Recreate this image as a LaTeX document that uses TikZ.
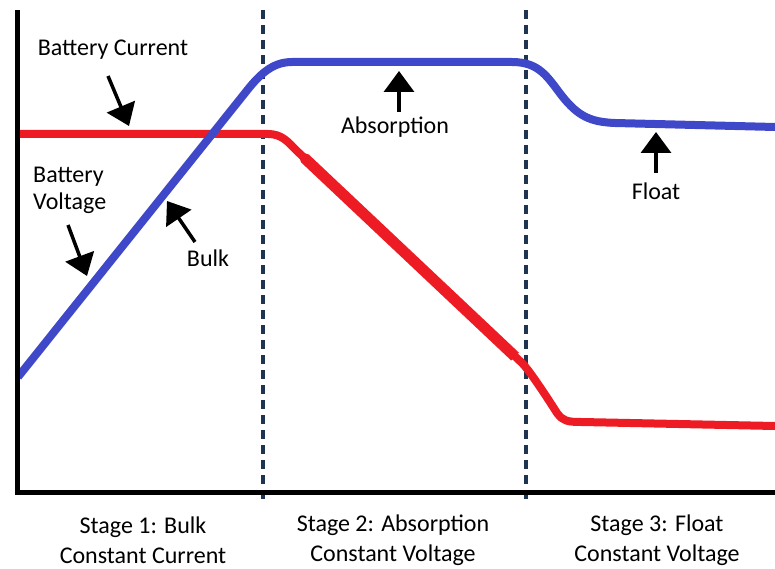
\documentclass[tikz,border=0pt]{standalone}
\usepackage{fontspec}
\setmainfont{Carlito}
\usetikzlibrary{arrows.meta}
\definecolor{voltblue}{HTML}{3F48C8}
\definecolor{currred}{HTML}{ED1C24}
\definecolor{stageline}{HTML}{1E3450}
\begin{document}
\begin{tikzpicture}[x=1pt,y=-1pt,
  lbl/.style={font=\fontsize{24}{27}\selectfont, text=black, inner sep=0pt},
  stagelbl/.style={font=\fontsize{24}{30}\selectfont, text=black, inner sep=0pt, align=center},
  axisline/.style={line width=5pt, black},
  stagesep/.style={line width=3.5pt, stageline, dash pattern=on 9pt off 6pt},
  voltcurve/.style={line width=8pt, voltblue, line join=round},
  currcurve/.style={line width=8pt, currred, line join=round},
  pointer/.style={line width=3.5pt, black, -{Triangle[width=30pt,length=21pt]}}]
\useasboundingbox (0,0) rectangle (775,569);

% stage separators
\coordinate (s1top) at (263,10);
\coordinate (s1bot) at (263,502);
\coordinate (s2top) at (526,10);
\coordinate (s2bot) at (526,502);
\draw[stagesep] (s1top) -- (s1bot);
\draw[stagesep] (s2top) -- (s2bot);

% charge current
\draw[currcurve] (18,134) -- (268,134) .. controls (282,134) and (288,142) .. (297,151)
  -- (522,363) .. controls (530,371) and (550,402) .. (557,413)
  .. controls (563,421) and (567,422) .. (582,422) -- (775,426);
% heavier stroke along the falling stretch
\draw[line width=11pt, currred, line cap=butt] (305,158.5) -- (515,356.5);
\fill[currred] (297,151) -- (305,158.5) -- (308.8,154.5) -- cycle;
\fill[currred] (297,151) -- (305,158.5) -- (301.2,162.5) -- cycle;

% battery voltage
\draw[voltcurve] (18,377) -- (245,93) .. controls (259,75) and (272,62) .. (292,62)
  -- (512,62) .. controls (540,62) and (548,78) .. (562,96)
  .. controls (578,116) and (590,122) .. (615,123) -- (775,127);

% axes
\coordinate (origin) at (17,492);
\coordinate (ytop) at (17,10);
\coordinate (xend) at (775,492);
\draw[axisline] (ytop) -- (origin) -- (xend);

% curve labels with pointers
\node[lbl] (curlbl) at (113,50) {Battery Current};
\coordinate (curtail) at (108,76);
\coordinate (curtip) at (129,126);
\draw[pointer] (curtail) -- (curtip);

\node[lbl, anchor=west, align=left] (voltlbl) at (33,190) {Battery\\Voltage};
\coordinate (volttail) at (68,225);
\coordinate (volttip) at (87,276);
\draw[pointer] (volttail) -- (volttip);

\node[lbl] (bulklbl) at (208,258) {Bulk};
\coordinate (bulktail) at (195,242);
\coordinate (bulktip) at (167,201);
\draw[pointer] (bulktail) -- (bulktip);

\node[lbl] (abslbl) at (395,127) {Absorption};
\coordinate (abstail) at (399,112);
\coordinate (abstip) at (399,71);
\draw[pointer] (abstail) -- (abstip);

\node[lbl] (floatlbl) at (656,191) {Float};
\coordinate (floattail) at (656,173);
\coordinate (floattip) at (656,132);
\draw[pointer] (floattail) -- (floattip);

% stage captions
\node[stagelbl] (stage1) at (143,540) {Stage 1: Bulk\\Constant Current};
\node[stagelbl] (stage2) at (393,540) {Stage 2: Absorption\\Constant Voltage};
\node[stagelbl] (stage3) at (657,540) {Stage 3: Float\\Constant Voltage};
\end{tikzpicture}
\end{document}
